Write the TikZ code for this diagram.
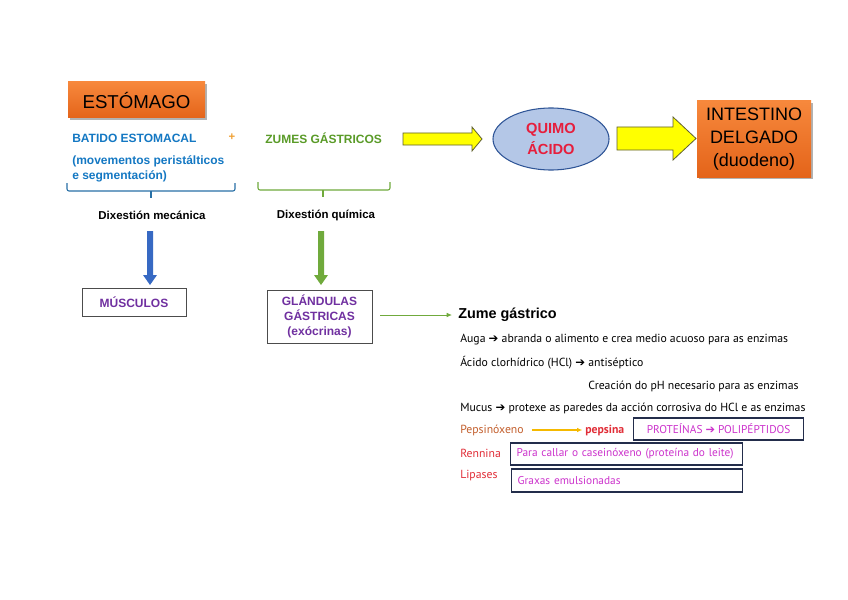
\documentclass[tikz,border=0pt]{standalone}
\usepackage{fontspec}
\setmainfont{Liberation Sans}
\newfontfamily\smallfont{PT Sans}
\newfontfamily\arrfont{DejaVu Sans}
\usetikzlibrary{shadows,shapes.geometric,arrows.meta}
\definecolor{orA}{RGB}{247,136,60}
\definecolor{orB}{RGB}{228,100,26}
\definecolor{txblue}{RGB}{20,120,195}
\definecolor{txgreen}{RGB}{90,155,40}
\definecolor{plusor}{RGB}{240,160,50}
\definecolor{purp}{RGB}{112,48,160}
\definecolor{quimored}{RGB}{230,30,60}
\definecolor{ellfill}{RGB}{180,199,231}
\definecolor{elldraw}{RGB}{47,85,151}
\definecolor{yel}{RGB}{255,255,0}
\definecolor{yeldraw}{RGB}{95,95,50}
\definecolor{enzred}{RGB}{225,45,55}
\definecolor{pepbrown}{RGB}{195,95,45}
\definecolor{magen}{RGB}{204,51,204}
\definecolor{navy}{RGB}{35,45,75}
\definecolor{arrblue}{RGB}{55,105,195}
\definecolor{arrgreen}{RGB}{112,170,60}
\definecolor{arryel}{RGB}{245,185,0}
\newcommand{\rar}{{\arrfont\char"2794}}
\begin{document}
\begin{tikzpicture}[x=0.75pt,y=-0.75pt,
  orangebox/.style={draw=none, top color=orA, bottom color=orB,
    drop shadow={shadow xshift=1.5pt, shadow yshift=-1.5pt, opacity=0.3, fill=black}},
  bluetxt/.style={text=txblue, font=\bfseries\fontsize{9}{11.25}\selectfont, inner sep=0},
  dixtxt/.style={font=\bfseries\fontsize{8.6}{10}\selectfont, inner sep=0},
  purpbox/.style={draw=black!70, line width=0.6pt, text=purp, font=\bfseries\fontsize{9}{11}\selectfont, align=center, inner sep=0},
  bodytxt/.style={font=\smallfont\fontsize{8.8}{10}\selectfont, inner sep=0, anchor=west},
  enzbox/.style={draw=navy, line width=0.9pt, text=magen, font=\smallfont\fontsize{8.5}{10}\selectfont, inner xsep=4pt, inner ysep=0, anchor=west},
  yelarrow/.style={fill=yel, draw=yeldraw, line width=0.6pt, line join=miter},
  bracketline/.style={line width=0.8pt, rounded corners=1.5pt}
]
\useasboundingbox (0,0) rectangle (848,599);
\fill[white] (0,0) rectangle (848,599);

% ESTOMAGO
\node[orangebox, minimum width=102.75pt, minimum height=27pt, inner sep=0,
  font=\fontsize{14}{17}\selectfont] (est) at (136.5,100) {ESTÓMAGO};

% INTESTINO
\node[orangebox, minimum width=85.5pt, minimum height=57pt, inner sep=0, align=center,
  font=\fontsize{13.5}{17}\selectfont] (int) at (754,139) {INTESTINO\\DELGADO\\(duodeno)};

% QUIMO ellipse
\node[ellipse, draw=elldraw, line width=0.8pt, fill=ellfill, minimum width=87pt, minimum height=46.5pt,
  inner sep=0, align=center, text=quimored, font=\bfseries\fontsize{11}{16}\selectfont] (quimo) at (551,139) {QUIMO\\ÁCIDO};

% left texts
\node[bluetxt, anchor=west] (batido) at (72,138) {BATIDO ESTOMACAL};
\node[text=plusor, font=\bfseries\fontsize{8.5}{11}\selectfont, inner sep=0] (plus) at (232,137) {+};
\node[bluetxt, anchor=north west, align=left] (movem) at (72,155) {(movementos peristálticos\\e segmentación)};
\node[text=txgreen, font=\bfseries\fontsize{9}{11}\selectfont, inner sep=0, anchor=west] (zumes) at (265,138) {ZUMES GÁSTRICOS};

% yellow block arrows
\coordinate (ya1) at (403,138.5);
\draw[yelarrow] (ya1) ++(0,-5.5) -- ++(69,0) -- ++(0,-6) -- ++(10,12) -- ++(-10,12) -- ++(0,-6) -- ++(-69,0) -- cycle;
\coordinate (ya2) at (617,138.5);
\draw[yelarrow] (ya2) ++(0,-11.5) -- ++(56,0) -- ++(0,-10) -- ++(23,21.5) -- ++(-23,21.5) -- ++(0,-10) -- ++(-56,0) -- cycle;

% brackets
\draw[txblue!80!black!90, bracketline] (67,183) -- (67,191) -- (235,191) -- (235,183);
\draw[txblue!80!black!90, line width=0.8pt] (151,191) -- (151,198);
\draw[arrgreen, bracketline] (258,182) -- (258,190) -- (390,190) -- (390,182);
\draw[arrgreen, line width=0.8pt] (323,190) -- (323,197);

\node[dixtxt] (dmec) at (152,215) {Dixestión mecánica};
\node[dixtxt] (dqui) at (326,215) {Dixestión química};

% boxes
\node[purpbox, minimum width=78pt, minimum height=21pt] (musc) at (134,302) {MÚSCULOS};
\node[purpbox, minimum width=78.75pt, minimum height=39.75pt, font=\bfseries\fontsize{9}{11.5}\selectfont] (gland) at (319.5,316.5) {GLÁNDULAS\\GÁSTRICAS\\(exócrinas)};

% thick vertical arrows
\fill[arrblue] (147,231) -- (153,231) -- (153,275) -- (157,275) -- (150,285) -- (143,275) -- (147,275) -- cycle;
\fill[arrgreen] (318,231) -- (324,231) -- (324,275) -- (328,275) -- (321,285) -- (314,275) -- (318,275) -- cycle;

% zume gastrico
\node[font=\bfseries\fontsize{10.8}{12}\selectfont, inner sep=0, anchor=west] (zume) at (458,315) {Zume gástrico};
\draw[arrgreen, line width=0.7pt, -{Latex[length=4pt,width=3.5pt]}, shorten <=6pt, shorten >=4.5pt] (gland.east |- zume.west) -- (zume.west);

\node[bodytxt] (auga) at (460,340) {Auga \rar\ abranda o alimento e crea medio acuoso para as enzimas};
\node[bodytxt] (acido) at (460,363) {Ácido clorhídrico (HCl) \rar\ antiséptico};
\node[bodytxt] (creac) at (588,386) {Creación do pH necesario para as enzimas};
\node[bodytxt] (mucus) at (460,408) {Mucus \rar\ protexe as paredes da acción corrosiva do HCl e as enzimas};

\node[bodytxt, text=pepbrown] (pepx) at (460,430) {Pepsinóxeno};
\node[bodytxt, text=enzred, font=\smallfont\bfseries\fontsize{8.8}{10}\selectfont] (peps) at (585,430) {pepsina};
\draw[arryel, line width=0.8pt, -{Latex[length=4pt,width=3.5pt]}, shorten <=6pt, shorten >=2pt] (pepx.east) -- (peps.west);
\node[enzbox, minimum width=127.5pt, minimum height=16.5pt] (prot) at (633,429) {PROTEÍNAS \rar\ POLIPÉPTIDOS};

\node[bodytxt, text=enzred] (renn) at (460,453) {Rennina};
\node[enzbox, minimum width=174pt, minimum height=16.5pt, align=left, text width=165pt] (para) at (510,454) {Para callar o caseinóxeno (proteína do leite)};

\node[bodytxt, text=enzred] (lip) at (460,476) {Lipases};
\node[enzbox, minimum width=173pt, minimum height=17.25pt, align=left, text width=164pt] (grax) at (511,480.5) {Graxas emulsionadas};
\end{tikzpicture}
\end{document}
